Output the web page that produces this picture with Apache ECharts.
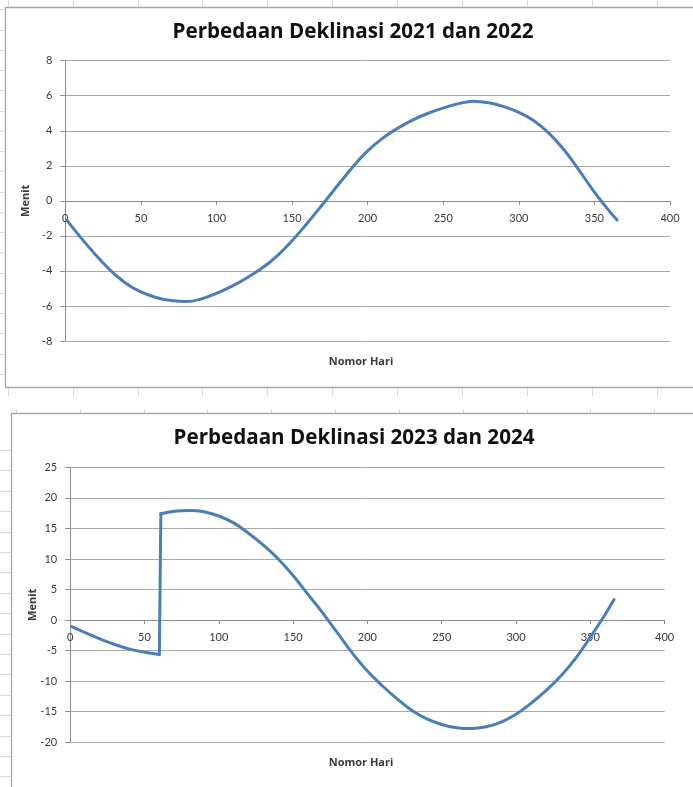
<!DOCTYPE html>
<html>
<head>
<meta charset="utf-8">
<script src="https://cdn.jsdelivr.net/npm/echarts@6/dist/echarts.min.js"></script>
<style>
html,body{margin:0;padding:0;background:#fff;}
#c{width:693px;height:787px;}
</style>
</head>
<body>
<div id="c"></div>
<script>
// ---- Chart 1: Perbedaan Deklinasi 2021 dan 2022 ----
const title1 = 'Perbedaan Deklinasi 2021 dan 2022';
const days1 = [1,10,20,30,40,50,60,70,80,90,100,110,120,130,140,150,160,170,180,190,200,210,220,230,240,250,260,270,280,290,300,310,320,330,340,350,360,365];
const vals1 = [-1.1,-2.07,-3.07,-3.98,-4.7,-5.2,-5.52,-5.69,-5.75,-5.6,-5.28,-4.88,-4.4,-3.85,-3.15,-2.28,-1.28,-0.22,0.86,1.92,2.85,3.58,4.15,4.62,5.0,5.3,5.55,5.69,5.6,5.38,5.05,4.57,3.85,2.9,1.73,0.5,-0.6,-1.1];

// ---- Chart 2: Perbedaan Deklinasi 2023 dan 2024 ----
const title2 = 'Perbedaan Deklinasi 2023 dan 2024';
const days2 = [1,10,20,30,40,50,60,61,70,80,90,100,110,120,130,140,150,160,170,180,190,200,210,220,230,240,250,260,270,280,290,300,310,320,330,340,350,360,366];
const vals2 = [-1.08,-2.05,-3.08,-4.0,-4.75,-5.26,-5.62,17.4,17.82,17.95,17.74,17.03,15.9,14.2,12.25,10.0,7.3,4.2,1.15,-2.15,-5.45,-8.35,-10.75,-12.9,-14.8,-16.17,-17.08,-17.62,-17.76,-17.47,-16.69,-15.4,-13.65,-11.6,-9.2,-6.3,-2.8,0.92,3.35];
const jumpDay2 = 61; // first day after the jump (29 Feb 2024)

const xTicks = {min: 0, max: 400, interval: 50};
const yTicks1 = {min: -8, max: 8, interval: 2};
const yTicks2 = {min: -20, max: 25, interval: 5};
const xName = 'Nomor Hari';
const yName = 'Menit';

const FONT = '"Open Sans", Lato, sans-serif';
const NUMFONT = 'Lato, "Open Sans", sans-serif';
const LINE = '#4A7EBB';
const GRID = '#a9a9a9';
const AXIS = '#8c8c8c';
const TXT = '#3a3a3a';
const SHEET = '#dadada';

function pairs(d, v){ return d.map((x,i)=>[x, v[i]]); }

const G1 = {left:65.3, right:23, top:60.7, height:280.3};
const G2 = {left:70.2, right:28.4, top:467.3, height:275};

const chart = echarts.init(document.getElementById('c'), null, {renderer:'canvas'});

// spreadsheet background cell lines
const g = [];
function vline(x, y1, y2){ g.push({type:'line', z:-10, silent:true, shape:{x1:x,y1:y1,x2:x,y2:y2}, style:{stroke:SHEET, lineWidth:1}}); }
function hline(y, x1, x2){ g.push({type:'line', z:-10, silent:true, shape:{x1:x1,y1:y,x2:x2,y2:y}, style:{stroke:SHEET, lineWidth:1}}); }
[8,73,138,202,267,332,397,462,527,592,657].forEach(x=>{ vline(x+0.5,0,7); vline(x+0.5,388,396); });
[16,80,144,207,271,335,399,463,527,590,654].forEach(x=>{ vline(x+0.5,409,413); });
for(let k=0;k<19;k++){ hline(Math.round(9.25+20.25*k)+0.5, 0, 5); }
for(let k=0;k<17;k++){ hline(Math.round(450+20.4*k)+0.5, 0, 11); }

// chart frames
g.push({type:'rect', z:-5, silent:true, shape:{x:5.5,y:7.5,width:700,height:380}, style:{fill:'#fff', stroke:'#a6a6a6', lineWidth:1.3}});
g.push({type:'rect', z:-5, silent:true, shape:{x:11.5,y:413.5,width:700,height:400}, style:{fill:'#fff', stroke:'#a6a6a6', lineWidth:1.3}});

// titles and x-axis names
g.push({type:'text', z:10, style:{x:353, y:32, text:title1, align:'center', verticalAlign:'middle', font:'bold 20.6px '+FONT, fill:'#111'}});
g.push({type:'text', z:10, style:{x:354, y:438, text:title2, align:'center', verticalAlign:'middle', font:'bold 20.6px '+FONT, fill:'#111'}});
g.push({type:'text', z:10, style:{x:361, y:361.5, text:xName, align:'center', verticalAlign:'middle', font:'bold 11px '+FONT, fill:TXT}});
g.push({type:'text', z:10, style:{x:361, y:762.5, text:xName, align:'center', verticalAlign:'middle', font:'bold 11px '+FONT, fill:TXT}});

function xAxisCfg(gi, grid, yt){
  // place the x axis where y = 0 (as in the Excel chart)
  const off = -grid.height * (0 - yt.min) / (yt.max - yt.min);
  return {type:'value', gridIndex:gi, min:xTicks.min, max:xTicks.max, interval:xTicks.interval,
    position:'bottom', offset:off,
    axisLine:{show:true, onZero:false, lineStyle:{color:AXIS, width:1}},
    axisTick:{show:true, length:4, lineStyle:{color:AXIS}},
    axisLabel:{color:TXT, fontFamily:NUMFONT, fontSize:11, margin:12},
    splitLine:{show:false}};
}
function yAxisCfg(gi, t, gap){
  return {type:'value', gridIndex:gi, min:t.min, max:t.max, interval:t.interval,
    name:yName, nameLocation:'middle', nameGap:gap, nameRotate:90, nameMoveOverlap:false,
    nameTextStyle:{color:TXT, fontFamily:FONT, fontSize:11, fontWeight:'bold'},
    axisLine:{show:true, onZero:false, lineStyle:{color:AXIS, width:1}},
    axisTick:{show:true, length:5, lineStyle:{color:AXIS}},
    axisLabel:{color:TXT, fontFamily:NUMFONT, fontSize:11, margin:13},
    splitLine:{show:true, lineStyle:{color:GRID, width:1}}};
}

const data2 = pairs(days2, vals2);
const jIdx = days2.indexOf(jumpDay2);
const lineSt = {color:LINE, width:3, cap:'round', join:'round'};

chart.setOption({
  animation:false,
  backgroundColor:'#fff',
  graphic:g,
  grid:[
    Object.assign({containLabel:false}, G1),
    Object.assign({containLabel:false}, G2)
  ],
  xAxis:[xAxisCfg(0, G1, yTicks1), xAxisCfg(1, G2, yTicks2)],
  yAxis:[yAxisCfg(0, yTicks1, 33.5), yAxisCfg(1, yTicks2, 32)],
  series:[
    {type:'line', xAxisIndex:0, yAxisIndex:0, data:pairs(days1, vals1), smooth:0.4, showSymbol:false, symbol:'none', lineStyle:lineSt, z:5},
    {type:'line', xAxisIndex:1, yAxisIndex:1, data:data2.slice(0, jIdx), smooth:0.4, showSymbol:false, symbol:'none', lineStyle:lineSt, z:5},
    {type:'line', xAxisIndex:1, yAxisIndex:1, data:data2.slice(jIdx-1, jIdx+1), smooth:false, showSymbol:false, symbol:'none', lineStyle:lineSt, z:5},
    {type:'line', xAxisIndex:1, yAxisIndex:1, data:data2.slice(jIdx), smooth:0.4, showSymbol:false, symbol:'none', lineStyle:lineSt, z:5}
  ]
});
</script>
</body>
</html>
